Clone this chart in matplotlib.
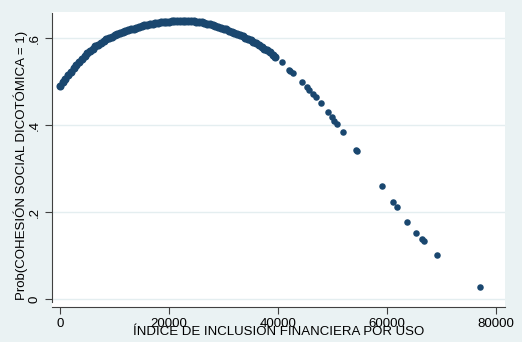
import numpy as np
import matplotlib.pyplot as plt

plt.rcParams['font.family'] = 'sans-serif'
plt.rcParams['font.sans-serif'] = ['Liberation Sans', 'DejaVu Sans']

# dense part of the curve (every 500)
x_dense = [0, 500, 1000, 1500, 2000, 2500, 3000, 3500, 4000, 4500,
           5000, 5500, 6000, 6500, 7000, 7500, 8000, 8500, 9000, 9500,
           10000, 10500, 11000, 11500, 12000, 12500, 13000, 13500, 14000, 14500,
           15000, 15500, 16000, 16500, 17000, 17500, 18000, 18500, 19000, 19500,
           20000, 20500, 21000, 21500, 22000, 22500, 23000, 23500, 24000, 24500,
           25000, 25500, 26000, 26500, 27000, 27500, 28000, 28500, 29000, 29500,
           30000, 30500, 31000, 31500, 32000, 32500, 33000, 33500, 34000, 34500,
           35000, 35500, 36000, 36500, 37000, 37500, 38000, 38500, 39000, 39500]
y_dense = [0.490, 0.499, 0.507, 0.515, 0.523, 0.531, 0.538, 0.545, 0.552, 0.559,
           0.565, 0.571, 0.576, 0.581, 0.585, 0.589, 0.593, 0.597, 0.600, 0.603,
           0.606, 0.609, 0.611, 0.614, 0.616, 0.618, 0.620, 0.622, 0.624, 0.626,
           0.627, 0.629, 0.630, 0.632, 0.633, 0.634, 0.635, 0.636, 0.637, 0.638,
           0.638, 0.639, 0.639, 0.640, 0.640, 0.640, 0.640, 0.640, 0.639, 0.639,
           0.638, 0.637, 0.636, 0.635, 0.633, 0.632, 0.630, 0.628, 0.626, 0.624,
           0.622, 0.620, 0.617, 0.615, 0.612, 0.610, 0.607, 0.604, 0.601, 0.598,
           0.595, 0.592, 0.588, 0.584, 0.580, 0.576, 0.572, 0.567, 0.562, 0.557]

# sparse points at the right
x_sparse = [40680, 42000, 42200, 42800, 44460, 45380, 45750, 46480, 46910, 47830,
            49230, 49850, 50280, 50880, 51990, 54300, 54500, 59020, 61040, 61780,
            63730, 65320, 66360, 66790, 69120, 77060]
y_sparse = [0.544, 0.526, 0.525, 0.519, 0.498, 0.487, 0.480, 0.471, 0.465, 0.451,
            0.431, 0.418, 0.410, 0.402, 0.385, 0.343, 0.340, 0.260, 0.222, 0.211,
            0.178, 0.152, 0.138, 0.133, 0.101, 0.028]

x_ticks = [0, 20000, 40000, 60000, 80000]
y_ticks = [0, 0.2, 0.4, 0.6]
y_ticklabels = ['0', '.2', '.4', '.6']

bg = '#eaf2f3'
navy = '#1a476f'

fig = plt.figure(figsize=(5.22, 3.42), dpi=100, facecolor=bg)
ax = fig.add_axes([52/522, (342-307)/342, (505-52)/522, (307-12)/342])
ax.set_facecolor('white')

ax.scatter(x_dense, y_dense, s=34, color=navy, linewidths=0, zorder=3)
ax.scatter(x_sparse, y_sparse, s=22, color=navy, linewidths=0, zorder=3)

ax.set_xlim(-1470, 81650)
ax.set_ylim(-0.0184, 0.66)

for s in ['top', 'right']:
    ax.spines[s].set_visible(False)
ax.spines['left'].set_bounds(-0.007, 0.658)
ax.spines['left'].set_color('#404040')
ax.spines['bottom'].set_color('#404040')

ax.set_xticks(x_ticks)
ax.set_xticklabels([str(t) for t in x_ticks], fontsize=9.5)
ax.set_yticks(y_ticks)
ax.set_yticklabels(y_ticklabels, fontsize=9.5, rotation=90, va='center')
ax.tick_params(axis='both', length=5, width=0.8, color='#404040', pad=3)
ax.grid(axis='y', color='#e4eef0', linewidth=1)
ax.set_axisbelow(True)

ax.set_xlabel('ÍNDICE DE INCLUSIÓN FINANCIERA POR USO', fontsize=9.5, va='center')
ax.xaxis.set_label_coords(0.5, -0.085)
ax.set_ylabel('Prob(COHESIÓN SOCIAL DICOTÓMICA = 1)', fontsize=9.5, va='center')
ax.yaxis.set_label_coords(-0.07, 0.48)

fig.savefig('out.png', dpi=100, facecolor=bg)
